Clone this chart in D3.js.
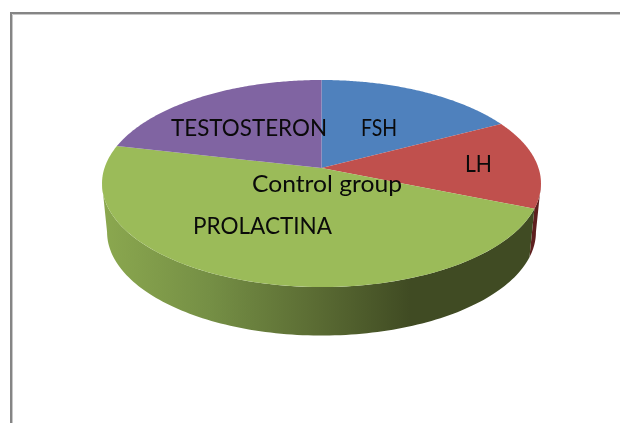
<!DOCTYPE html>
<html><head><meta charset="utf-8">
<script src="https://cdn.jsdelivr.net/npm/d3@7/dist/d3.min.js"></script>
<style>html,body{margin:0;padding:0;background:#fff;overflow:hidden}svg{display:block;filter:blur(.4px)}text{font-family:Lato,"Open Sans",sans-serif;fill:#0a0a0a}</style>
</head><body><svg id="c" width="620" height="423"></svg>
<script>
const categories = ["FSH", "LH", "PROLACTINA", "TESTOSTERON"];
const values = [17.3, 13.9, 47.4, 21.4];
const topColors = ["#4f81bd", "#c0504d", "#9bbb59", "#8064a2"];
const sideColors = ["#2c4a70", "#5e1f1e", "#404b23", "#4a3a60"];
const title = "Control group";

const W = 620, H = 423;
const svg = d3.select("#c").attr("viewBox", [0, 0, W, H]);

// perspective projection of the unit disc onto the page
const cx = 321.5, apexY = 168, R = 217, a = 76, c = -0.15;
const topFace = ang => {
  const u = Math.sin(ang), v = -Math.cos(ang), d = 1 + c * v;
  return [cx + R * u / d, (a * v + apexY) / d];
};
const bottomFace = ang => {
  const [x, y] = topFace(ang);
  return [cx + (x - cx) * 0.977, y + 48.5];
};
const line = d3.line();
const arcPts = (f, a0, a1) => d3.range(0, 121).map(i => f(a0 + (a1 - a0) * i / 120));

const arcs = d3.pie().sort(null).value(d => d)(values);

// frame
const frame = [[11, H], [11, 13], [W, 13]];
svg.append("path").attr("d", d3.line()(frame.map(p => [p[0] + 1.5, p[1] + 1.5])))
  .attr("fill", "none").attr("stroke", "#c8c8c8").attr("stroke-width", 1);
svg.append("path").attr("d", d3.line()(frame))
  .attr("fill", "none").attr("stroke", "#858585").attr("stroke-width", 2);

// side shading
const defs = svg.append("defs");
const grad = defs.append("linearGradient").attr("id", "sideGreen")
  .attr("gradientUnits", "userSpaceOnUse")
  .attr("x1", 102).attr("x2", 410).attr("y1", 0).attr("y2", 0);
grad.append("stop").attr("offset", 0).attr("stop-color", "#8ba84f");
grad.append("stop").attr("offset", 0.35).attr("stop-color", "#758f45");
grad.append("stop").attr("offset", 0.7).attr("stop-color", "#5a6b33");
grad.append("stop").attr("offset", 1).attr("stop-color", "#404b23");

// visible side walls: the front of the rim, between the two silhouette tangents
const wallStart = Math.acos(c);
const wallEnd = 2 * Math.PI - wallStart;
arcs.forEach((s, i) => {
  const a0 = Math.max(s.startAngle, wallStart);
  const a1 = Math.min(s.endAngle, wallEnd);
  if (a1 <= a0) return;
  const pts = arcPts(topFace, a0, a1).concat(arcPts(bottomFace, a1, a0));
  svg.append("path").attr("d", line(pts) + "Z")
    .attr("fill", categories[i] === "PROLACTINA" ? "url(#sideGreen)" : sideColors[i]);
});

// top faces
const apex = [cx, apexY];
arcs.forEach((s, i) => {
  const pts = [apex].concat(arcPts(topFace, s.startAngle, s.endAngle));
  svg.append("path").attr("d", line(pts) + "Z").attr("fill", topColors[i]);
});

// labels: [x, y, rendered width]
const labelPos = { FSH: [379, 130, 36], LH: [478.5, 166.5, 27], PROLACTINA: [262.5, 228.5, 139], TESTOSTERON: [249, 130, 156] };
const addLabel = (t, [x, y, w]) => svg.append("text").attr("x", x).attr("y", y)
  .attr("text-anchor", "middle").attr("dominant-baseline", "middle")
  .attr("font-size", 23.5).attr("textLength", w).attr("lengthAdjust", "spacingAndGlyphs").text(t);
categories.forEach(n => addLabel(n, labelPos[n]));
addLabel(title, [327, 186.5, 150]);
</script></body></html>
